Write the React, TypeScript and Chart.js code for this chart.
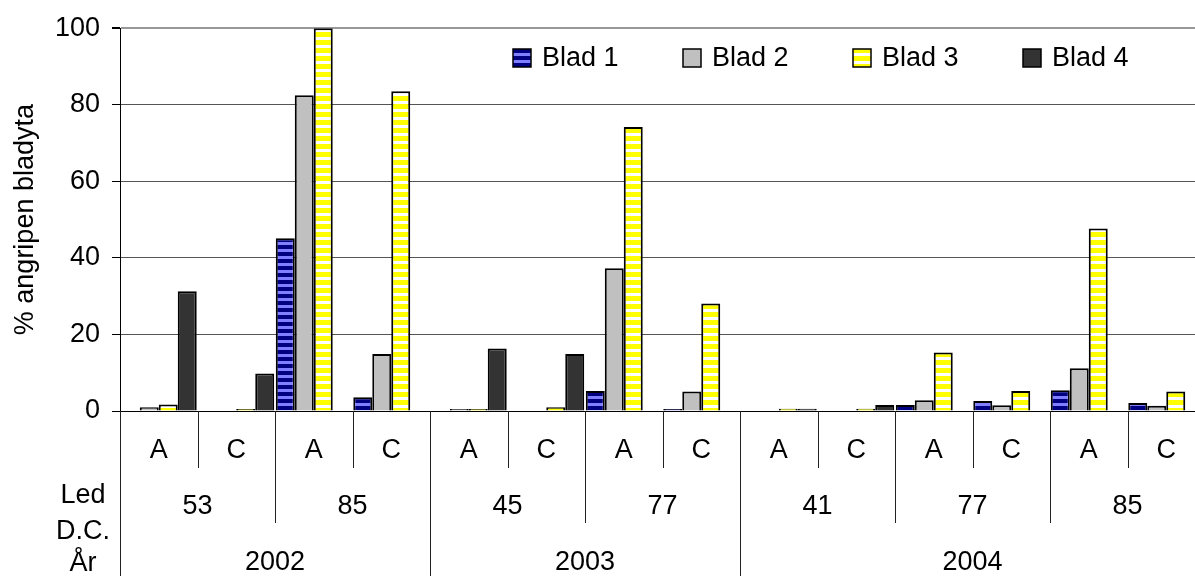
import React, { useEffect, useRef } from 'react';
import { Chart, registerables } from 'chart.js';

Chart.register(...registerables);

// ---------- data ----------
const categories = ['A', 'C', 'A', 'C', 'A', 'C', 'A', 'C', 'A', 'C', 'A', 'C', 'A', 'C'];
const ledLabels = ['53', '85', '45', '77', '41', '77', '85'];
const ledSpans = [2, 2, 2, 2, 2, 2, 2];
const yearLabels = ['2002', '2003', '2004'];
const yearSpans = [4, 4, 6];
const rowTitles = ['Led', 'D.C.', 'År'];
const seriesNames = ['Blad 1', 'Blad 2', 'Blad 3', 'Blad 4'];

const blad1 = [0, 0, 45.1, 3.6, 0, 0, 5.2, 0.5, 0, 0, 1.6, 2.6, 5.4, 2.1];
const blad2 = [1.0, 0, 82.5, 14.9, 0.5, 0, 37.3, 5.1, 0, 0, 2.8, 1.5, 11.2, 1.4];
const blad3 = [1.7, 0.5, 100, 83.5, 0.5, 1.0, 74.2, 28.1, 0.6, 0.6, 15.3, 5.2, 47.7, 5.1];
const blad4 = [31.3, 9.8, 0, 0, 16.3, 14.9, 0, 0, 0.6, 1.6, 0, 0, 0, 0];

const yTicks = [0, 20, 40, 60, 80, 100];
const yTitle = '% angripen bladyta';

// ---------- styles ----------
const FONT = '"Liberation Sans", Arial, sans-serif';
const FS = 27;

function stripePattern(ctx: CanvasRenderingContext2D, c1: string, c2: string, a: number, b: number) {
  const cv = document.createElement('canvas');
  cv.width = 4;
  cv.height = a + b;
  const g = cv.getContext('2d')!;
  g.fillStyle = c1;
  g.fillRect(0, 0, 4, a);
  g.fillStyle = c2;
  g.fillRect(0, a, 4, b);
  return ctx.createPattern(cv, 'repeat')!;
}

export default function App() {
  const ref = useRef<HTMLCanvasElement | null>(null);

  useEffect(() => {
    const canvas = ref.current!;
    const ctx0 = canvas.getContext('2d')!;
    const fills: any[] = [
      stripePattern(ctx0, '#000080', '#8080ff', 4, 3),
      '#c0c0c0',
      stripePattern(ctx0, '#ffff00', '#ffffff', 5, 3),
      '#333333',
    ];
    const values = [blad1, blad2, blad3, blad4];

    const overlay = {
      id: 'overlay',
      afterDraw(chart: any) {
        const { ctx, chartArea: ca, scales } = chart;
        const xs = scales.x;
        const n = categories.length;
        const w = (ca.right - ca.left) / n;
        const bx = (i: number) => ca.left + i * w;
        ctx.save();
        ctx.font = `${FS}px ${FONT}`;
        ctx.fillStyle = '#000';
        ctx.textAlign = 'center';
        ctx.textBaseline = 'middle';

        // row 1 labels
        categories.forEach((c, i) => ctx.fillText(c, xs.getPixelForValue(i), 451));
        // row 2 labels
        let s = 0;
        const ledBounds: number[] = [];
        ledLabels.forEach((l, i) => {
          const a = s, b = s + ledSpans[i];
          ctx.fillText(l, (bx(a) + bx(b)) / 2, 507);
          ledBounds.push(b);
          s = b;
        });
        // row 3 labels
        s = 0;
        const yearBounds: number[] = [];
        yearLabels.forEach((l, i) => {
          const a = s, b = s + yearSpans[i];
          ctx.fillText(l, (bx(a) + bx(b)) / 2, 563);
          yearBounds.push(b);
          s = b;
        });
        // row titles
        ctx.fillText(rowTitles[0], 83, 496);
        ctx.fillText(rowTitles[1], 83, 532);
        ctx.fillText(rowTitles[2], 83, 564);

        // separators
        ctx.strokeStyle = '#222';
        ctx.lineWidth = 1;
        for (let k = 1; k < n; k++) {
          let end = 468;
          if (yearBounds.includes(k)) end = 576;
          else if (ledBounds.includes(k)) end = 523;
          const x = Math.round(bx(k)) + 0.5;
          ctx.beginPath();
          ctx.moveTo(x, ca.bottom);
          ctx.lineTo(x, end);
          ctx.stroke();
        }
        // y-axis extension downward
        const xl = Math.round(ca.left) + 0.5;
        ctx.beginPath();
        ctx.moveTo(xl, ca.bottom);
        ctx.lineTo(xl, 576);
        ctx.stroke();

        // y title
        ctx.save();
        ctx.translate(26, (ca.top + ca.bottom) / 2);
        ctx.rotate(-Math.PI / 2);
        ctx.fillText(yTitle, 0, 0);
        ctx.restore();

        // legend
        ctx.textAlign = 'left';
        seriesNames.forEach((name, i) => {
          const x0 = 513 + i * 170;
          const y0 = 49;
          ctx.fillStyle = fills[i];
          ctx.fillRect(x0, y0, 18, 18);
          ctx.strokeStyle = '#000';
          ctx.lineWidth = 1.5;
          ctx.strokeRect(x0, y0, 18, 18);
          ctx.fillStyle = '#000';
          ctx.fillText(name, x0 + 29, 59);
        });
        ctx.restore();
      },
    };

    const chart = new Chart(canvas, {
      type: 'bar',
      data: {
        labels: categories,
        datasets: seriesNames.map((name, i) => ({
          label: name,
          data: values[i],
          backgroundColor: fills[i],
          borderColor: '#000',
          borderWidth: 2,
          categoryPercentage: 0.98,
          barPercentage: 1,
        })),
      },
      options: {
        animation: false,
        responsive: true,
        maintainAspectRatio: false,
        devicePixelRatio: 1,
        layout: { padding: { left: 0, top: 25, right: 10, bottom: 165 } },
        plugins: { legend: { display: false }, tooltip: { enabled: false }, title: { display: false } },
        scales: {
          x: { display: false },
          y: {
            min: 0,
            max: 100,
            afterFit: (sc: any) => {
              sc.width = 120;
            },
            afterBuildTicks: (sc: any) => {
              sc.ticks = yTicks.map((v) => ({ value: v }));
            },
            ticks: {
              padding: 12,
              color: '#000',
              font: { family: FONT, size: FS },
            },
            grid: {
              tickLength: 8,
              tickColor: '#000',
              color: (c: any) => (c.tick && c.tick.value === 0 ? '#000' : c.tick && c.tick.value === 100 ? '#999' : '#555'),
              lineWidth: (c: any) => (c.tick && c.tick.value === 100 ? 2 : 1),
            },
            border: { display: true, color: '#000', width: 1 },
          },
        },
      },
      plugins: [overlay],
    });
    return () => chart.destroy();
  }, []);

  return (
    <div style={{ position: 'fixed', left: 0, top: 0, width: 1195, height: 576, overflow: 'hidden', background: '#fff' }}>
      <div style={{ position: 'relative', width: 1215, height: 576 }}>
        <canvas ref={ref} />
      </div>
    </div>
  );
}
